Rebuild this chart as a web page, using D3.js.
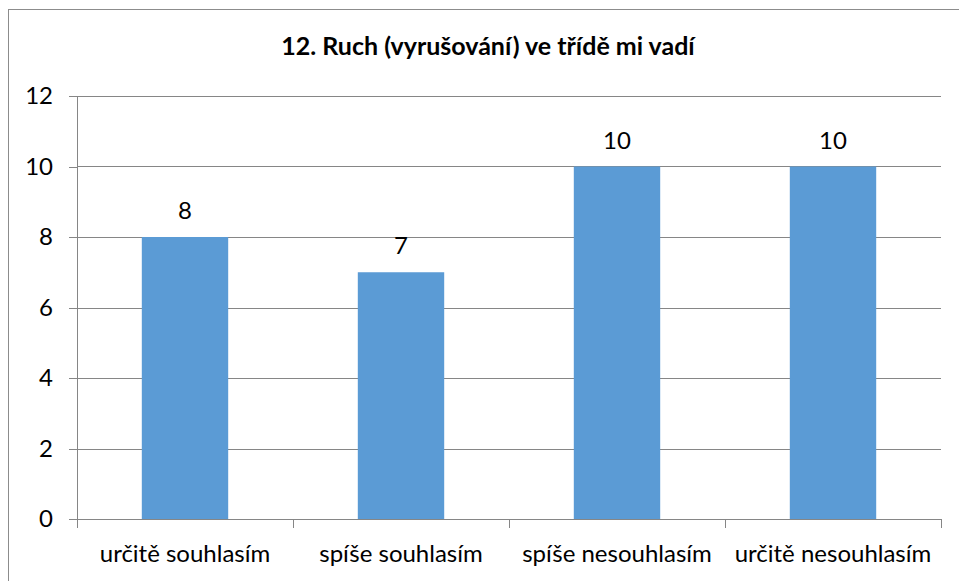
<!DOCTYPE html>
<meta charset="utf-8">
<style>
  body { margin: 0; background: #fff; font-family: 'Lato', 'Open Sans', sans-serif; }
  .axis path, .axis line { stroke: #868686; shape-rendering: crispEdges; }
  .axis text { font-size: 24px; fill: #000; font-family: 'Lato', 'Open Sans', sans-serif; }
  .grid line { stroke: #868686; shape-rendering: crispEdges; }
</style>
<body>
<div id="chart"></div>
<script src="https://d3js.org/d3.v7.min.js"></script>
<script>
  // data
  var categories = ["určitě souhlasím", "spíše souhlasím", "spíše nesouhlasím", "určitě nesouhlasím"];
  var values = [8, 7, 10, 10];
  var yTicks = [0, 2, 4, 6, 8, 10, 12];

  var width = 959, height = 581;
  var margin = { top: 96, right: 18, bottom: 62, left: 77 };
  var innerW = width - margin.left - margin.right,
      innerH = height - margin.top - margin.bottom;

  var svg = d3.select("#chart").append("svg")
    .attr("width", width)
    .attr("height", height);

  // chart border
  svg.append("rect")
    .attr("x", 8.5).attr("y", 9.5)
    .attr("width", 980).attr("height", 600)
    .attr("fill", "none")
    .attr("stroke", "#8c8c8c");

  var g = svg.append("g").attr("transform", `translate(${margin.left},${margin.top})`);

  var x = d3.scaleBand().domain(categories).range([0, innerW]).paddingInner(0.6).paddingOuter(0.3);
  var xb = d3.scaleBand().domain(categories).range([0, innerW]);
  var y = d3.scaleLinear().domain([0, 12]).range([innerH, 0]);

  // gridlines
  g.append("g").attr("class", "grid")
    .selectAll("line")
    .data(yTicks.filter(d => d > 0))
    .enter().append("line")
    .attr("x1", 0).attr("x2", innerW)
    .attr("y1", d => Math.round(y(d)) + 0.5).attr("y2", d => Math.round(y(d)) + 0.5);

  // bars
  g.selectAll(".bar")
    .data(values)
    .enter().append("rect")
    .attr("class", "bar")
    .attr("x", (d, i) => x(categories[i]))
    .attr("y", d => y(d))
    .attr("width", x.bandwidth())
    .attr("height", d => innerH - y(d))
    .attr("fill", "#5b9bd5");

  // data labels
  g.selectAll(".lbl")
    .data(values)
    .enter().append("text")
    .attr("class", "lbl")
    .attr("x", (d, i) => x(categories[i]) + x.bandwidth() / 2)
    .attr("y", d => y(d) - 18)
    .attr("text-anchor", "middle")
    .style("font-size", "24px")
    .text(d => d);

  // y axis
  var yAxis = g.append("g").attr("class", "axis")
    .call(d3.axisLeft(y).tickValues(yTicks).tickSize(8).tickSizeOuter(0).tickPadding(16));

  // x axis with ticks at band boundaries
  var xAxis = g.append("g").attr("class", "axis")
    .attr("transform", `translate(0,${innerH})`);
  xAxis.append("line").attr("x1", 0).attr("x2", innerW).attr("y1", 0.5).attr("y2", 0.5);
  xAxis.selectAll(".tk")
    .data(d3.range(categories.length + 1))
    .enter().append("line")
    .attr("class", "tk")
    .attr("x1", i => Math.round(i * xb.step()) + 0.5)
    .attr("x2", i => Math.round(i * xb.step()) + 0.5)
    .attr("y1", 0).attr("y2", 9);
  xAxis.selectAll(".cat")
    .data(categories)
    .enter().append("text")
    .attr("class", "cat")
    .attr("x", d => xb(d) + xb.bandwidth() / 2)
    .attr("y", 43)
    .attr("text-anchor", "middle")
    .text(d => d);

  // title
  svg.append("text")
    .attr("x", 488)
    .attr("y", 55)
    .attr("text-anchor", "middle")
    .style("font-size", "25px")
    .style("font-weight", "bold")
    .text("12. Ruch (vyrušování) ve třídě mi vadí");
</script>
</body>
